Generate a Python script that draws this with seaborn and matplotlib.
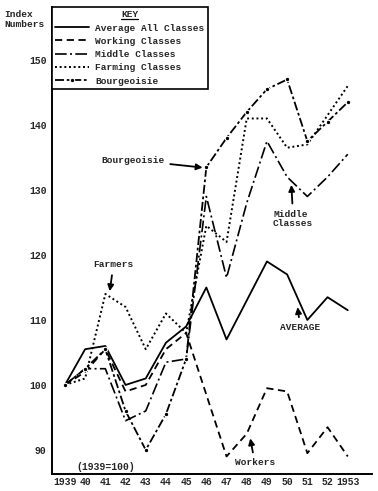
import numpy as np
import pandas as pd
import matplotlib
matplotlib.use("Agg")
import matplotlib.pyplot as plt
import seaborn as sns
from matplotlib.lines import Line2D

# index numbers, 1939 = 100
years = list(range(1939, 1954))
average = [100, 105.5, 106, 100, 101, 106.5, 109, 115, 107, 113, 119, 117, 110, 113.5, 111.5]
working = [100, 102, 105.5, 99, 100, 105.5, 108, 98.5, 89, 92.5, 99.5, 99, 89.5, 93.5, 89]
middle = [100, 102.5, 102.5, 94.5, 96, 103.5, 104, 129, 116.5, 128, 137.5, 132, 129, 132, 135.5]
farming = [100, 101, 114, 112, 105.5, 111, 108, 124.5, 122, 141, 141, 136.5, 137, 141.5, 146]
bourgeoisie = [100, 102.5, 105.5, 96, 90, 95.5, 104, 133.5, 138, 142, 145.5, 147, 137.5, 140.5, 143.5]

series_names = ["Average All Classes", "Working Classes", "Middle Classes",
                "Farming Classes", "Bourgeoisie"]
x_labels = ["1939", "40", "41", "42", "43", "44", "45", "46", "47", "48",
            "49", "50", "51", "52", "1953"]
y_ticks = [90, 100, 110, 120, 130, 140, 150]

df = pd.DataFrame({
    "year": years * 5,
    "index": average + working + middle + farming + bourgeoisie,
    "series": sum([[n] * len(years) for n in series_names], []),
})

sns.set_style("white")
plt.rcParams["font.family"] = ["Liberation Mono", "DejaVu Sans Mono"]
plt.rcParams["font.weight"] = "bold"

fig = plt.figure(figsize=(3.78, 4.91), dpi=100)
ax = fig.add_axes([52 / 378, 17 / 491, 320 / 378, 467 / 491])

styles = {
    "Average All Classes": dict(linestyle="-", lw=1.3),
    "Working Classes": dict(linestyle=(0, (4, 2.5)), lw=1.3),
    "Middle Classes": dict(linestyle=(0, (7, 2, 1.2, 2)), lw=1.2),
    "Farming Classes": dict(linestyle=(0, (1, 1.4)), lw=1.4),
    "Bourgeoisie": dict(linestyle=(0, (5, 1.5, 1.5, 1.5)), lw=1.3, marker="o",
                        markersize=3.2),
}

for name in series_names:
    sub = df[df["series"] == name]
    sns.lineplot(data=sub, x="year", y="index", ax=ax, color="black",
                 label=name, **styles[name])

ax.set_xlim(1938.36, 1954.2)
ax.set_ylim(86.3, 158.15)
ax.set_xticks(years)
ax.set_xticklabels(x_labels, fontsize=7)
ax.set_yticks(y_ticks)
ax.set_yticklabels([str(t) for t in y_ticks], fontsize=7)
ax.tick_params(axis="x", length=0, pad=2)
ax.tick_params(axis="y", length=0, pad=4)
ax.set_xlabel("")
ax.set_ylabel("")
for side in ["top", "right"]:
    ax.spines[side].set_visible(False)
for side in ["left", "bottom"]:
    ax.spines[side].set_color("black")
    ax.spines[side].set_linewidth(1.4)

leg = ax.legend(title="KEY", loc="upper left", borderaxespad=0, frameon=True,
                fancybox=False, edgecolor="black", fontsize=6.8, title_fontsize=6.8,
                handlelength=3.6, handletextpad=0.6, labelspacing=0.45,
                borderpad=0.35)
leg.get_frame().set_linewidth(1.2)
leg.get_frame().set_alpha(1)

# annotations
arrow = dict(arrowstyle="-|>", color="black", lw=1.3, mutation_scale=9)
ax.annotate("Farmers", xy=(1941.2, 114), xytext=(1941.4, 118.5),
            ha="center", va="center", fontsize=6.8, arrowprops=arrow)
ax.annotate("Bourgeoisie", xy=(1945.95, 133.4), xytext=(1942.35, 134.6),
            ha="center", va="center", fontsize=6.8, arrowprops=arrow)
ax.annotate("Middle\nClasses", xy=(1950.2, 131.2), xytext=(1950.3, 125.6),
            ha="center", va="center", fontsize=6.8, linespacing=1.0,
            multialignment="left", arrowprops=arrow)
ax.annotate("AVERAGE", xy=(1950.5, 112.4), xytext=(1950.65, 108.8),
            ha="center", va="center", fontsize=6.8, arrowprops=arrow)
ax.annotate("Workers", xy=(1948.15, 92.2), xytext=(1948.4, 88.0),
            ha="center", va="center", fontsize=6.8, arrowprops=arrow)
ax.text(1941.0, 87.4, "(1939=100)", ha="center", va="center", fontsize=7)

fig.text(4 / 378, 1 - 10 / 491, "Index\nNumbers", ha="left", va="top",
         fontsize=6.8, linespacing=1.1)

# underline the KEY title
fig.canvas.draw()
bb = leg.get_title().get_window_extent()
inv = fig.transFigure.inverted()
(x0, y0), (x1, _) = inv.transform([(bb.x0, bb.y0 + 0.5), (bb.x1, bb.y0)])
fig.add_artist(Line2D([x0, x1], [y0, y0], color="black", lw=0.9,
                      transform=fig.transFigure))

fig.savefig("out.png", dpi=100)
